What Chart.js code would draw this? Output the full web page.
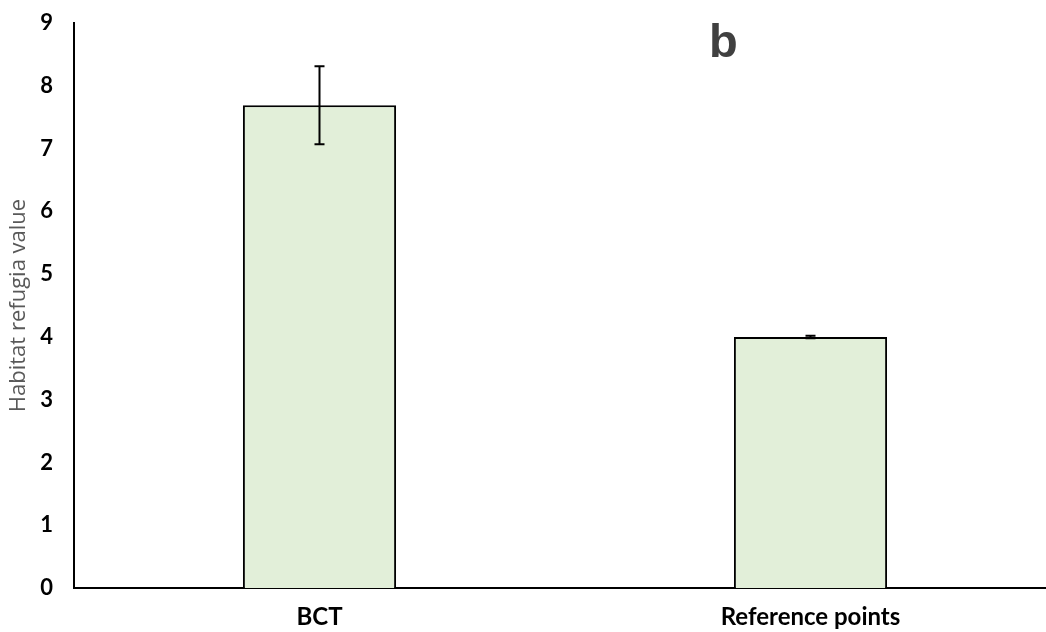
<!DOCTYPE html>
<html>
<head>
<meta charset="utf-8">
<script src="https://cdn.jsdelivr.net/npm/chart.js@4.4.0/dist/chart.umd.min.js"></script>
<style>
  html, body { margin: 0; padding: 0; background: #fff; overflow: hidden; }
  #wrap { width: 1056px; height: 632px; }
</style>
</head>
<body>
<div id="wrap"><canvas id="chart" width="1056" height="632"></canvas></div>
<script>
const categories = ['BCT', 'Reference points'];
const values = [7.69, 4.0];
const errors = [0.62, 0.02];
const yTicks = [0, 1, 2, 3, 4, 5, 6, 7, 8, 9];

// draws the error bars from the scale positions
const errorBarPlugin = {
    id: 'errorBars',
    afterDatasetsDraw(chart) {
        const ctx = chart.ctx;
        const x = chart.scales.x;
        const y = chart.scales.y;
        ctx.save();
        ctx.strokeStyle = '#000';
        ctx.lineWidth = 2;
        values.forEach((v, i) => {
            const cx = x.getPixelForValue(i);
            const top = y.getPixelForValue(v + errors[i]);
            const bot = y.getPixelForValue(v - errors[i]);
            ctx.beginPath();
            ctx.moveTo(cx, top); ctx.lineTo(cx, bot);
            ctx.moveTo(cx - 5, top); ctx.lineTo(cx + 5, top);
            ctx.moveTo(cx - 5, bot); ctx.lineTo(cx + 5, bot);
            ctx.stroke();
        });
        ctx.restore();
    }
};

const panelLabel = {
    id: 'panelLabel',
    afterDraw(chart) {
        const ctx = chart.ctx;
        ctx.save();
        ctx.fillStyle = '#404040';
        ctx.font = 'bold 47px "Liberation Sans", Arial, sans-serif';
        ctx.textAlign = 'left';
        ctx.textBaseline = 'alphabetic';
        ctx.fillText('b', 709, 57);
        ctx.restore();
    }
};

new Chart(document.getElementById('chart'), {
    type: 'bar',
    data: {
        labels: categories,
        datasets: [{
            data: values,
            backgroundColor: '#E2EFD9',
            borderColor: '#000',
            borderWidth: 2,
            barPercentage: 0.312,
            categoryPercentage: 1
        }]
    },
    options: {
        responsive: false,
        animation: false,
        layout: { padding: { top: 23, left: 0, right: 0, bottom: 0 } },
        plugins: { legend: { display: false }, tooltip: { enabled: false } },
        scales: {
            x: {
                grid: { display: false, drawTicks: false },
                border: { color: '#000', width: 2 },
                ticks: {
                    color: '#000',
                    padding: 15,
                    font: { family: 'Lato, "Liberation Sans", sans-serif', size: 24, weight: 'bold' }
                },
                afterFit(scale) { scale.height = 44; }
            },
            y: {
                min: 0,
                max: 9,
                afterBuildTicks(scale) { scale.ticks = yTicks.map(v => ({ value: v })); },
                grid: { display: false, drawTicks: false },
                border: { color: '#000', width: 2 },
                ticks: {
                    color: '#000',
                    padding: 21,
                    font: { family: 'Lato, "Liberation Sans", sans-serif', size: 22, weight: 'bold' }
                },
                title: {
                    display: true,
                    text: 'Habitat refugia value',
                    color: '#595959',
                    padding: { top: 6, bottom: 0 },
                    font: { family: '"Open Sans", sans-serif', size: 22 }
                },
                afterFit(scale) {
                    scale.width = 74;
                    scale.paddingTop = 0;
                    scale.paddingBottom = 0;
                }
            }
        }
    },
    plugins: [errorBarPlugin, panelLabel]
});
</script>
</body>
</html>
